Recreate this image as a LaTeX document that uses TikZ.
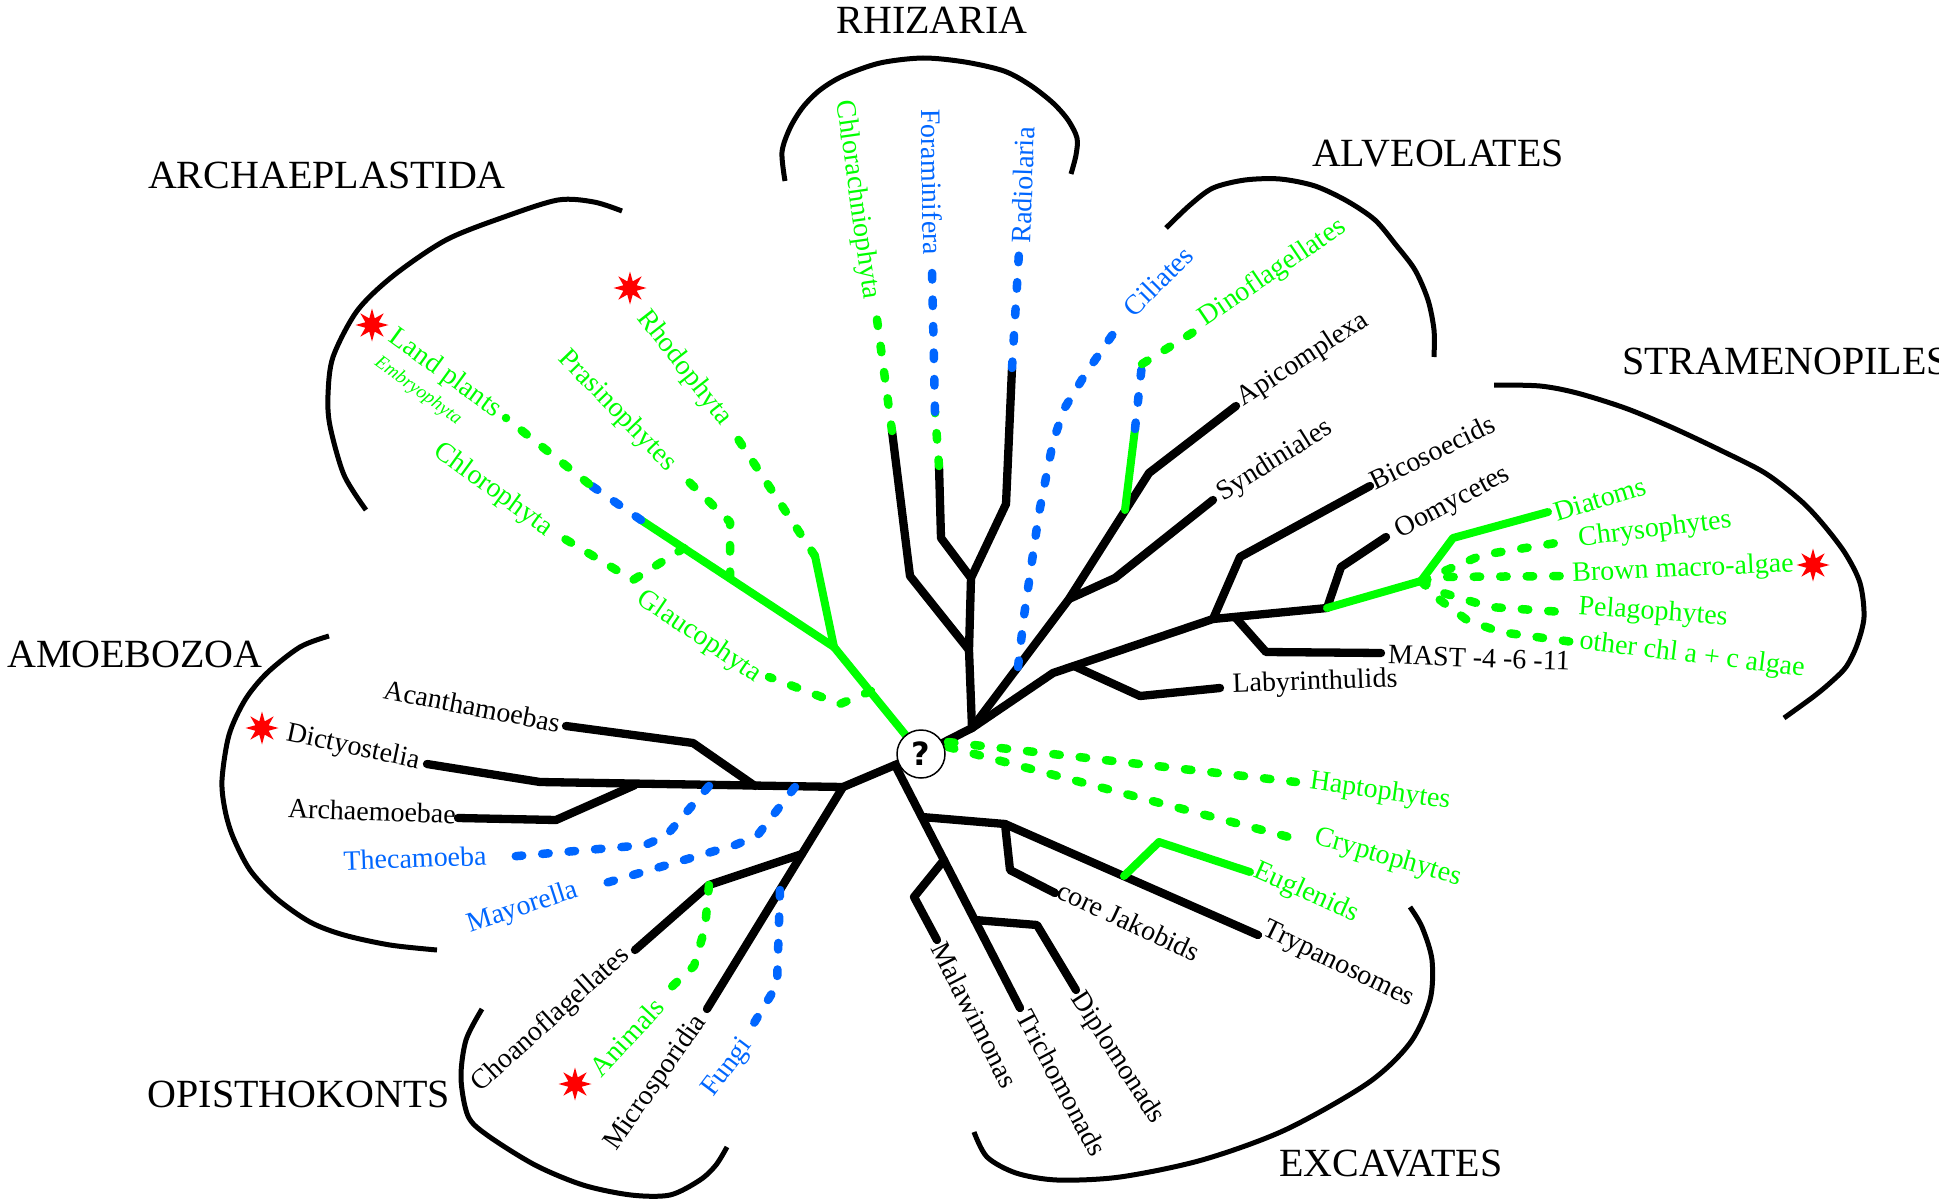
\documentclass[tikz,border=0pt]{standalone}
\usepackage{fontspec}
\setmainfont{Liberation Serif}
\newfontfamily\qfont{DejaVu Sans}
\usetikzlibrary{shapes.geometric}
\definecolor{lgreen}{RGB}{0,255,0}
\definecolor{lblue}{RGB}{0,102,255}
\begin{document}
\begin{tikzpicture}[x=1pt,y=-1pt,
 blk/.style={line width=8.3pt,black,line cap=round,line join=round},
 grn/.style={line width=8pt,lgreen,line cap=round,line join=round},
 gdash/.style={line width=8.5pt,lgreen,line cap=round,line join=round,dash pattern=on 6.5pt off 20pt},
 bdash/.style={gdash,lblue},
 clade/.style={line width=5pt,black},
 lab/.style={inner sep=0pt,font=\fontsize{28}{30}\selectfont},
 blab/.style={lab,text=black},
 glab/.style={lab,text=lgreen},
 ulab/.style={lab,text=lblue},
 ttl/.style={inner sep=0pt,font=\fontsize{40}{44}\selectfont},
 redstar/.style={star,star points=8,star point ratio=2.3,minimum size=33pt,inner sep=0pt,fill=red}]
\useasboundingbox (0,0) rectangle (1939,1199);

% ---------- clade brackets ----------
\draw[clade] plot[smooth] coordinates {(366,510) (344,475) (330,426) (328,395) (333,357) (357,311) (393,276) (446,240) (504,217) (558,200) (594,202) (622,211)};
\draw[clade] plot[smooth] coordinates {(785,181) (782,152) (790,128) (803,107) (820,90) (843,76) (880,63) (923,58) (965,62) (1004,71) (1030,85) (1053,103) (1068,120) (1077,138) (1076,155) (1071,174)};
\draw[clade] plot[smooth] coordinates {(1166,228) (1190,205) (1213,188) (1245,180) (1280,179) (1315,186) (1347,201) (1375,220) (1396,245) (1415,270) (1428,300) (1434,330) (1434,357)};
\draw[clade] plot[smooth] coordinates {(1494,385) (1540,386) (1577,393) (1625,408) (1671,427) (1720,450) (1765,473) (1800,500) (1822,523) (1845,553) (1860,583) (1864,617) (1857,645) (1846,667) (1830,683) (1813,697) (1784,718)};
\draw[clade] plot[smooth] coordinates {(329,636) (300,647) (267,673) (245,700) (229,735) (222,780) (225,810) (233,837) (250,870) (276,898) (310,922) (344,935) (390,945) (437,950)};
\draw[clade] plot[smooth] coordinates {(482,1009) (466,1040) (461,1078) (468,1116) (487,1135) (535,1165) (583,1185) (631,1195) (670,1195) (700,1180) (716,1165) (727,1147)};
\draw[clade] plot[smooth] coordinates {(974,1132) (987,1157) (1016,1173) (1057,1180) (1120,1177) (1202,1160) (1285,1130) (1368,1083) (1410,1043) (1430,1000) (1432,960) (1422,927) (1410,907)};

% ---------- coordinates ----------
\coordinate (c) at (921,754);
\coordinate (JR) at (972,728);
\coordinate (X0) at (895,765);
\coordinate (JA) at (834,647);
% Archaeplastida
\coordinate (LP1) at (641,520); \coordinate (LP2) at (589,484); \coordinate (LP3) at (506,418);
\coordinate (G0) at (871,691); \coordinate (G1) at (840,704); \coordinate (G2) at (769,677);
\coordinate (R1) at (815,556); \coordinate (R2) at (734,433);
\coordinate (P0) at (730,578); \coordinate (P1) at (730,522); \coordinate (P2) at (682,475);
\coordinate (C0) at (684,548); \coordinate (C1) at (633,580); \coordinate (C2) at (560,536);
% Rhizaria
\coordinate (RZ1) at (969,650); \coordinate (RZ2) at (971,578);
\coordinate (CH1) at (910,576); \coordinate (CH2) at (892,431); \coordinate (CH3) at (876,312);
\coordinate (FO1) at (941,538); \coordinate (FO2) at (939,466); \coordinate (FO3) at (935,412); \coordinate (FO4) at (932,270);
\coordinate (RA1) at (1006,504); \coordinate (RA2) at (1012,368); \coordinate (RA3) at (1019,252);
% Alveolates
\coordinate (AL0) at (1069,599); \coordinate (AL1) at (1149,473); \coordinate (AL2) at (1236,406);
\coordinate (SY1) at (1115,578); \coordinate (SY2) at (1213,500);
\coordinate (DF0) at (1125,510); \coordinate (DF1) at (1135,429); \coordinate (DF2) at (1142,364); \coordinate (DF3) at (1200,328);
\coordinate (CI0) at (1018,667); \coordinate (CI1) at (1024,616); \coordinate (CI2) at (1039,513); \coordinate (CI3) at (1053,442);
\coordinate (CI4) at (1064,409); \coordinate (CI5) at (1086,373); \coordinate (CI6) at (1122,321);
% Stramenopiles
\coordinate (SB) at (1053,673); \coordinate (LB0) at (1074,666); \coordinate (LB1) at (1140,696); \coordinate (LB2) at (1220,688);
\coordinate (S1) at (1213,619); \coordinate (BI1) at (1240,557); \coordinate (BI2) at (1370,486);
\coordinate (MS0) at (1235,617); \coordinate (MS1) at (1266,652); \coordinate (MS2) at (1381,653);
\coordinate (S2) at (1327,608); \coordinate (OO1) at (1341,567); \coordinate (OO2) at (1386,537);
\coordinate (S3) at (1421,581); \coordinate (DI1) at (1453,538); \coordinate (DI2) at (1548,512);
\coordinate (CY1) at (1482,555); \coordinate (CY2) at (1562,542);
\coordinate (BR1) at (1445,577); \coordinate (BR2) at (1562,576);
\coordinate (PE1) at (1440,592); \coordinate (PE2) at (1490,607); \coordinate (PE3) at (1563,612);
\coordinate (OT1) at (1440,600); \coordinate (OT2) at (1467,620); \coordinate (OT3) at (1500,632); \coordinate (OT4) at (1573,642);
\coordinate (HA0) at (948,742); \coordinate (HA1) at (1296,782);
\coordinate (CR0) at (948,747); \coordinate (CR1) at (1300,840);
% Excavates
\coordinate (EX1) at (922,817); \coordinate (EX2) at (1005,824); \coordinate (TRY) at (1258,935);
\coordinate (CJ1) at (1010,870); \coordinate (CJ2) at (1055,893);
\coordinate (EX3) at (944,860); \coordinate (MA1) at (914,897); \coordinate (MA2) at (937,940);
\coordinate (EX4) at (975,920); \coordinate (DP1) at (1037,925); \coordinate (DP2) at (1076,990);
\coordinate (TR) at (1020,1008);
\coordinate (EU0) at (1124,876); \coordinate (EU1) at (1159,842); \coordinate (EU2) at (1250,872);
% Amoebozoa
\coordinate (A0) at (843,787); \coordinate (MY0) at (795,787); \coordinate (AC0) at (755,786);
\coordinate (TH0) at (709,786); \coordinate (AR0) at (635,785); \coordinate (AD0) at (540,782); \coordinate (AD1) at (427,764);
\coordinate (AC1) at (693,743); \coordinate (AC2) at (566,726);
\coordinate (AR1) at (556,820); \coordinate (AR2) at (458,818);
\coordinate (TH1) at (666,836); \coordinate (TH2) at (645,845); \coordinate (TH3) at (506,857);
\coordinate (MY1) at (757,836); \coordinate (MY2) at (735,845); \coordinate (MY3) at (592,887);
% Opisthokonts
\coordinate (OP1) at (802,854); \coordinate (FU0) at (780,890); \coordinate (MI) at (707,1009);
\coordinate (CO1) at (709,885); \coordinate (CO2) at (635,950);
\coordinate (AN1) at (705,928); \coordinate (AN2) at (694,966); \coordinate (AN3) at (665,993);
\coordinate (FU1) at (777,985); \coordinate (FU2) at (748,1033);

% ---------- branches ----------
\draw[blk] (c) -- (JR);
\draw[blk] (c) -- (A0);
% Rhizaria
\draw[blk] (JR) -- (RZ1) -- (RZ2) -- (FO1) -- (FO2);
\draw[blk] (RZ1) -- (CH1) -- (CH2);
\draw[blk] (RZ2) -- (RA1) -- (RA2);
\draw[gdash] (CH2) -- (CH3);
\draw[gdash] (FO2) -- (FO3);
\draw[bdash] (FO3) -- (FO4);
\draw[bdash] (RA2) -- (RA3);
% Alveolates
\draw[blk] (JR) -- (AL0) -- (AL1) -- (AL2);
\draw[blk] (AL0) -- (SY1) -- (SY2);
\draw[grn] (DF0) -- (DF1);
\draw[bdash] (DF1) -- (DF2);
\draw[gdash] (DF2) -- (DF3);
\draw[bdash] (CI0) -- (CI1) -- (CI2) -- (CI3) -- (CI4) -- (CI5) -- (CI6);
% Stramenopiles
\draw[blk] (JR) -- (SB) -- (S1) -- (S2);
\draw[blk] (LB0) -- (LB1) -- (LB2);
\draw[blk] (S1) -- (BI1) -- (BI2);
\draw[blk] (MS0) -- (MS1) -- (MS2);
\draw[blk] (S2) -- (OO1) -- (OO2);
\draw[grn] (S2) -- (S3) -- (DI1) -- (DI2);
\draw[gdash] (S3) -- (CY1) -- (CY2);
\draw[gdash] (S3) -- (BR1) -- (BR2);
\draw[gdash] (S3) -- (PE1) -- (PE2) -- (PE3);
\draw[gdash] (S3) -- (OT1) -- (OT2) -- (OT3) -- (OT4);
% Haptophytes, Cryptophytes
\draw[gdash] (HA0) -- (HA1);
\draw[gdash] (CR0) -- (CR1);
% Excavates
\draw[blk] (X0) -- (TR);
\draw[blk] (EX1) -- (EX2) -- (TRY);
\draw[blk] (EX2) -- (CJ1) -- (CJ2);
\draw[blk] (EX3) -- (MA1) -- (MA2);
\draw[blk] (EX4) -- (DP1) -- (DP2);
\draw[grn] (EU0) -- (EU1) -- (EU2);
% Amoebozoa
\draw[blk] (A0) -- (AD0) -- (AD1);
\draw[blk] (AC0) -- (AC1) -- (AC2);
\draw[blk] (AR0) -- (AR1) -- (AR2);
\draw[bdash] (TH0) -- (TH1) -- (TH2) -- (TH3);
\draw[bdash] (MY0) -- (MY1) -- (MY2) -- (MY3);
% Opisthokonts
\draw[blk] (A0) -- (MI);
\draw[blk] (OP1) -- (CO1) -- (CO2);
\draw[gdash] (CO1) -- (AN1) -- (AN2) -- (AN3);
\draw[bdash] (FU0) -- (FU1) -- (FU2);
% Archaeplastida
\draw[grn] (c) -- (JA);
\draw[grn] (JA) -- (LP1);
\draw[bdash] (LP1) -- (LP2);
\draw[gdash] (LP2) -- (LP3);
\draw[grn] (JA) -- (R1);
\draw[gdash] (R1) -- (R2);
\draw[gdash] (P0) -- (P1) -- (P2);
\draw[gdash] (C0) -- (C1) -- (C2);
\draw[gdash] (G0) -- (G1) -- (G2);

% ---------- root ----------
\node[circle,draw,line width=1.5pt,fill=white,minimum size=48pt,inner sep=0pt,font=\qfont\bfseries\fontsize{32}{32}\selectfont] (q) at (c) {?};

% ---------- titles ----------
\node[ttl] (tRhi) at (932,20) {RHIZARIA};
\node[ttl] (tArc) at (327,175) {ARCHAEPLASTIDA};
\node[ttl] (tAlv) at (1438,154) {ALVEOLATES};
\node[ttl,anchor=west] (tStr) at (1622,361) {STRAMENOPILES};
\node[ttl] (tAmo) at (135,654) {AMOEBOZOA};
\node[ttl] (tOpi) at (299,1094) {OPISTHOKONTS};
\node[ttl] (tExc) at (1391,1164) {EXCAVATES};

% ---------- labels ----------
\node[glab,rotate=-36] (lLand) at (445,374) {Land plants};
\node[inner sep=0pt,text=lgreen,font=\itshape\fontsize{19}{20}\selectfont,rotate=-36] (lEmb) at (418,391) {Embryophyta};
\node[glab,rotate=-36] (lChl) at (493,490) {Chlorophyta};
\node[glab,rotate=-46] (lPra) at (617,411) {Prasinophytes};
\node[glab,rotate=-52] (lRho) at (684,368) {Rhodophyta};
\node[glab,rotate=-34] (lGla) at (699,637) {Glaucophyta};

\node[glab,rotate=-82] (lCra) at (857,200) {Chlorachniophyta};
\node[ulab,rotate=-89] (lFor) at (932,182) {Foraminifera};
\node[ulab,rotate=88] (lRad) at (1023,185) {Radiolaria};

\node[ulab,rotate=45] (lCil) at (1158,281) {Ciliates};
\node[glab,rotate=34] (lDin) at (1273,273) {Dinoflagellates};
\node[blab,rotate=33] (lApi) at (1303,360) {Apicomplexa};
\node[blab,rotate=32] (lSyn) at (1275,461) {Syndiniales};

\node[blab,rotate=26] (lBic) at (1432,452) {Bicosoecids};
\node[blab,rotate=28] (lOom) at (1453,503) {Oomycetes};
\node[glab,rotate=17] (lDia) at (1600,499) {Diatoms};
\node[glab,rotate=7] (lChr) at (1655,530) {Chrysophytes};
\node[glab,rotate=2.5] (lBro) at (1683,570) {Brown macro-algae};
\node[glab,rotate=-4] (lPel) at (1653,613) {Pelagophytes};
\node[glab,rotate=-7] (lOth) at (1692,656) {other chl a + c algae};
\node[blab,rotate=-2] (lMas) at (1479,658) {MAST -4 -6 -11};
\node[blab,rotate=2] (lLab) at (1315,683) {Labyrinthulids};

\node[glab,rotate=-8] (lHap) at (1380,792) {Haptophytes};
\node[glab,rotate=-16] (lCry) at (1388,858) {Cryptophytes};
\node[glab,rotate=-24] (lEug) at (1306,893) {Euglenids};
\node[blab,rotate=-26] (lTry) at (1338,965) {Trypanosomes};
\node[blab,rotate=-25] (lJak) at (1129,921) {core Jakobids};
\node[blab,rotate=-57] (lDip) at (1117,1058) {Diplomonads};
\node[blab,rotate=-62] (lTri) at (1062,1083) {Trichomonads};
\node[blab,rotate=-63] (lMal) at (975,1015) {Malawimonas};

\node[blab,rotate=-11] (lAca) at (472,706) {Acanthamoebas};
\node[blab,rotate=-12] (lDic) at (353,748) {Dictyostelia};
\node[blab,rotate=-2] (lArc) at (372,811) {Archaemoebae};
\node[ulab,rotate=2] (lThe) at (415,858) {Thecamoeba};
\node[ulab,rotate=18] (lMay) at (523,908) {Mayorella};

\node[blab,rotate=42] (lCho) at (551,1020) {Choanoflagellates};
\node[glab,rotate=47] (lAni) at (627,1037) {Animals};
\node[blab,rotate=55] (lMic) at (656,1083) {Microsporidia};
\node[ulab,rotate=53] (lFun) at (728,1068) {Fungi};

% ---------- stars ----------
\node[redstar] (st1) at (372,325) {};
\node[redstar] (st2) at (630,288) {};
\node[redstar] (st3) at (262,728) {};
\node[redstar] (st4) at (1813,565) {};
\node[redstar] (st5) at (575,1084) {};
\end{tikzpicture}
\end{document}
